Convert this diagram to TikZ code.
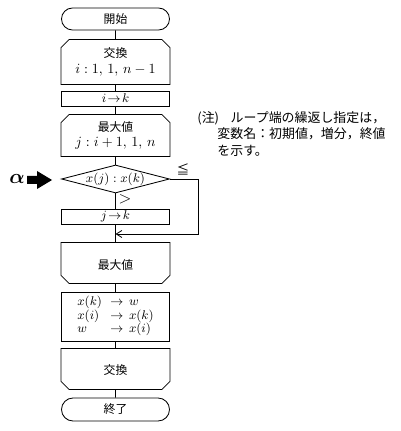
\documentclass[tikz,border=0pt]{standalone}
\usepackage{fontspec}
\usepackage{bm}
\newfontfamily\jpfont{Noto Sans CJK JP}
\usetikzlibrary{positioning,arrows.meta,calc,shapes.misc,shapes.geometric}

\tikzset{
  box/.style={draw,rectangle,minimum width=2.7cm,inner sep=0pt,font=\jpfont\fontsize{8.4}{10}\selectfont,align=center},
  termbox/.style={box,rounded rectangle},
  loopbox/.style={box,draw=none},
  decide/.style={draw,diamond,aspect=3.86,inner sep=0pt,minimum width=2.7cm,minimum height=0.7cm,font=\fontsize{9.5}{10}\selectfont},
  flow/.style={line width=0.6pt},
}

\begin{document}
\begin{tikzpicture}[x=0.025cm,y=-0.025cm,line width=0.6pt]
  \useasboundingbox (0,0) rectangle (400,431);
  % 本体
  \node[termbox,minimum height=0.55cm] (start) at (115.5,19) {開始};
  \node[loopbox,minimum height=1.1cm] (lpi) at (115.5,62) {交換\\[1pt]{\fontsize{9.8}{10}\selectfont$i:1,\,1,\,n-1$}};
  \node[box,minimum height=0.375cm,font=\fontsize{9.5}{10}\selectfont] (ik) at (115.5,98.5) {$i\!\rightarrow\! k$};
  \node[loopbox,minimum height=1.025cm] (lpj) at (115.5,135.5) {最大値\\[1pt]{\fontsize{9.8}{10}\selectfont$j:i+1,\,1,\,n$}};
  \node[decide] (cmp) at (115.5,179) {$x(j):x(k)$};
  \node[box,minimum height=0.375cm,font=\fontsize{9.5}{10}\selectfont] (jk) at (115.5,216.5) {$j\!\rightarrow\! k$};
  \node[loopbox,minimum height=1.0cm] (lpjend) at (115.5,263) {\raisebox{-10pt}{最大値}};
  \node[box,minimum height=1.225cm,font=\fontsize{9.5}{10}\selectfont] (swap) at (115.5,316.5)
    {\renewcommand{\arraystretch}{0.95}\begin{tabular}{@{}l@{\hspace{6pt}}l@{\hspace{4pt}}l@{}}
     $x(k)$ & $\rightarrow$ & $w$\\
     $x(i)$ & $\rightarrow$ & $x(k)$\\
     $w$    & $\rightarrow$ & $x(i)$
     \end{tabular}};
  \node[loopbox,minimum height=1.0cm] (lpiend) at (115.5,369) {\raisebox{-8pt}{交換}};
  \node[termbox,minimum height=0.575cm] (stop) at (115.5,409.5) {終了};
  % ループ端の枠
  \foreach \n in {lpi,lpj}
    \draw (\n.south west) -- ([yshift=-0.2cm]\n.north west) -- ([xshift=0.2cm]\n.north west)
      -- ([xshift=-0.2cm]\n.north east) -- ([yshift=-0.2cm]\n.north east) -- (\n.south east) -- cycle;
  \foreach \n in {lpjend,lpiend}
    \draw (\n.north west) -- ([yshift=0.2cm]\n.south west) -- ([xshift=0.2cm]\n.south west)
      -- ([xshift=-0.2cm]\n.south east) -- ([yshift=0.2cm]\n.south east) -- (\n.north east) -- cycle;
  % 接続
  \draw[flow] (start) -- (lpi);
  \draw[flow] (lpi) -- (ik);
  \draw[flow] (ik) -- (lpj);
  \draw[flow] (lpj) -- (cmp);
  \draw[flow] (cmp) -- (jk);
  \coordinate (join) at (115.5,234);
  \coordinate (side) at (198,179);
  \draw[flow] (jk) -- (lpjend);
  \draw[flow,-{Straight Barb[length=4pt,width=5pt]}] (cmp.east) -- (side) |- (join);
  \draw[flow] (lpjend) -- (swap);
  \draw[flow] (swap) -- (lpiend);
  \draw[flow] (lpiend) -- (stop);
  % 分岐の記号
  \node[font=\jpfont\fontsize{9}{10}\selectfont] (le) at (183,169) {≦};
  \node[font=\fontsize{12}{12}\selectfont] (gt) at (125,199) {$>$};
  % α
  \node[font=\Large] (alpha) at (17,179) {$\bm{\alpha}$};
  \fill (27,176) -- (37,176) -- (37,171) -- (52,180) -- (37,189) -- (37,184) -- (27,184) -- cycle;
  % 注記
  \node[anchor=north west,align=left,inner sep=0pt,font=\jpfont\fontsize{9.2}{11.8}\selectfont] (note) at (197,111)
    {(注)\hspace{0.9em}ループ端の繰返し指定は，\\
     \hspace*{1.55em}変数名：初期値，増分，終値\\
     \hspace*{1.55em}を示す。};
\end{tikzpicture}
\end{document}
